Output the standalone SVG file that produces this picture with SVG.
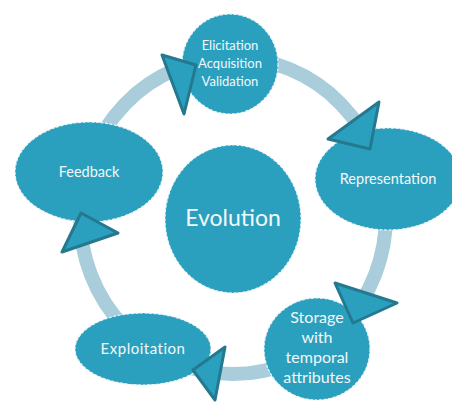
<svg xmlns="http://www.w3.org/2000/svg" width="452" height="402" viewBox="0 0 452 402">
<style>
.node{fill:#2ba0be;stroke:#e8f4f8;stroke-width:1.2;stroke-dasharray:3 1.5}
.lbl{font-family:Lato,"Liberation Sans",sans-serif;fill:#f2f8fa;text-anchor:middle}
.ring{fill:none;stroke:#a9cddb;stroke-width:14}
.arrow{fill:#2ba0be;stroke:#24788f;stroke-width:3;stroke-linejoin:round}
</style>
<rect width="452" height="402" fill="#ffffff"/>
<g id="connectors">
<ellipse class="ring" cx="233" cy="216" rx="153" ry="158"/>
</g>
<g id="node-elicitation">
<ellipse class="node" cx="230" cy="64" rx="48" ry="50"/>
<text class="lbl" x="230" y="50" font-size="13">Elicitation</text>
<text class="lbl" x="230" y="68" font-size="13">Acquisition</text>
<text class="lbl" x="230" y="86" font-size="13">Validation</text>
</g>
<g id="node-feedback">
<ellipse class="node" cx="89" cy="172" rx="74" ry="50"/>
<text class="lbl" x="89" y="177" font-size="14.5">Feedback</text>
</g>
<g id="node-representation">
<ellipse class="node" cx="388" cy="179" rx="73" ry="51"/>
<text class="lbl" x="388" y="184" font-size="14.5">Representation</text>
</g>
<g id="node-evolution">
<ellipse class="node" cx="233" cy="219" rx="68" ry="74"/>
<text class="lbl" x="233" y="226" font-size="23">Evolution</text>
</g>
<g id="node-storage">
<ellipse class="node" cx="317" cy="349" rx="53" ry="51"/>
<text class="lbl" x="317" y="323" font-size="16">Storage</text>
<text class="lbl" x="317" y="343" font-size="16">with</text>
<text class="lbl" x="317" y="363" font-size="16">temporal</text>
<text class="lbl" x="317" y="383" font-size="16">attributes</text>
</g>
<g id="node-exploitation">
<ellipse class="node" cx="143" cy="349" rx="68" ry="36"/>
<text class="lbl" x="143" y="354" font-size="15" letter-spacing="0.5">Exploitation</text>
</g>
<g id="arrowheads">
<polygon class="arrow" points="162,55 196,65 184,114"/>
<polygon class="arrow" points="379,102 328,139 370,149"/>
<polygon class="arrow" points="335,283 397,303 353,323"/>
<polygon class="arrow" points="225,347 193,370 215,400"/>
<polygon class="arrow" points="81,213 118,233 62,252"/>
</g>
</svg>
